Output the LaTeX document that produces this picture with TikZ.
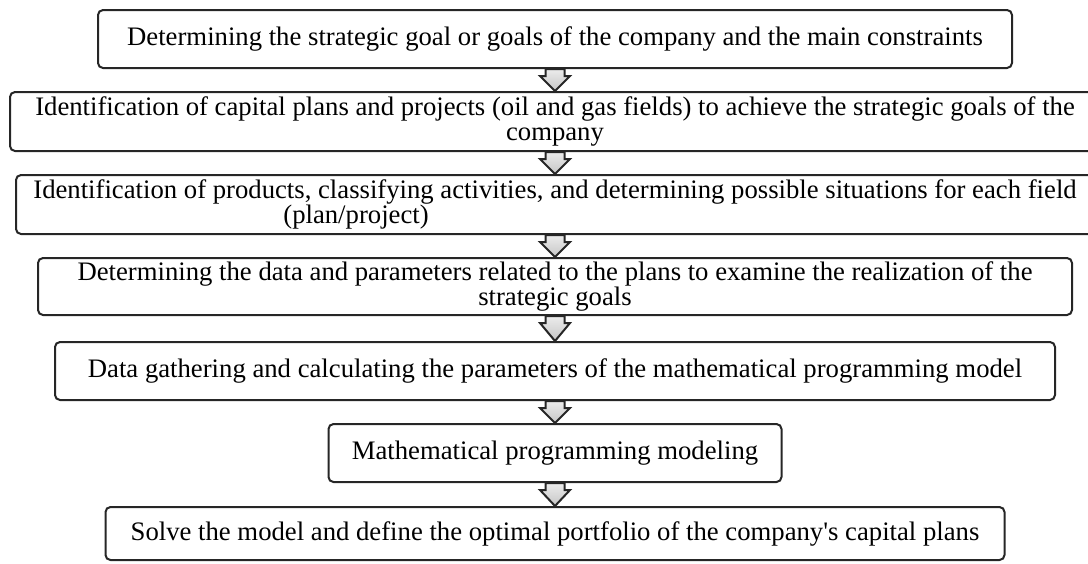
\documentclass[tikz,border=0pt]{standalone}
\usepackage{fontspec}
\setmainfont{Liberation Serif}[Ligatures=TeXOff]
\usepackage{tikz}
\usetikzlibrary{calc}

% block arrow from the bottom of one box to the top of the next
\newcommand{\flowarrow}[2]{%
  \draw[blockarr] ($(#1.south)+(-9.5,0)$) -- ($(#1.south)+(9.5,0)$)
    -- ($(#1.south)+(9.5,7)$) -- ($(#1.south)+(15,7)$) -- (#2.north)
    -- ($(#1.south)+(-15,7)$) -- ($(#1.south)+(-9.5,7)$) -- cycle;}

\begin{document}
\begin{tikzpicture}[x=0.5pt,y=-0.5pt,
    stepbox/.style={draw=black!85, line width=1pt, rounded corners=2.5pt,
      inner sep=0pt, align=center, font=\fontsize{13.35}{12.5}\selectfont},
    blockarr/.style={draw=black!85, line width=1pt, line join=miter,
      top color=gray!15, bottom color=gray!45}]
    \useasboundingbox (0,0) rectangle (1088,563);

    % steps
    \node[stepbox, minimum width=457pt, minimum height=29pt] (goal) at (555,39)
      {Determining the strategic goal or goals of the company and the main constraints};
    \node[stepbox, minimum width=545pt, minimum height=29.5pt] (plans) at (555,121.5)
      {\raisebox{2pt}{\shortstack{Identification of capital plans and projects (oil and gas fields) to achieve the strategic goals of the\\company}}};
    \node[stepbox, minimum width=539pt, minimum height=29.5pt, align=left] (products) at (555,204.5)
      {Identification of products, classifying activities, and determining possible situations for each field\\\hspace*{125pt}(plan/project)};
    \node[stepbox, minimum width=517pt, minimum height=28.5pt] (data) at (555,286.5)
      {Determining the data and parameters related to the plans to examine the realization of the\\strategic goals};
    \node[stepbox, minimum width=500pt, minimum height=29pt] (params) at (555,371)
      {Data gathering and calculating the parameters of the mathematical programming model};
    \node[stepbox, minimum width=226.5pt, minimum height=29pt] (model) at (555,453)
      {Mathematical programming modeling};
    \node[stepbox, minimum width=449.5pt, minimum height=26.5pt] (solve) at (555,533.5)
      {Solve the model and define the optimal portfolio of the company's capital plans};

    % arrows
    \flowarrow{goal}{plans}
    \flowarrow{plans}{products}
    \flowarrow{products}{data}
    \flowarrow{data}{params}
    \flowarrow{params}{model}
    \flowarrow{model}{solve}

\end{tikzpicture}
\end{document}
